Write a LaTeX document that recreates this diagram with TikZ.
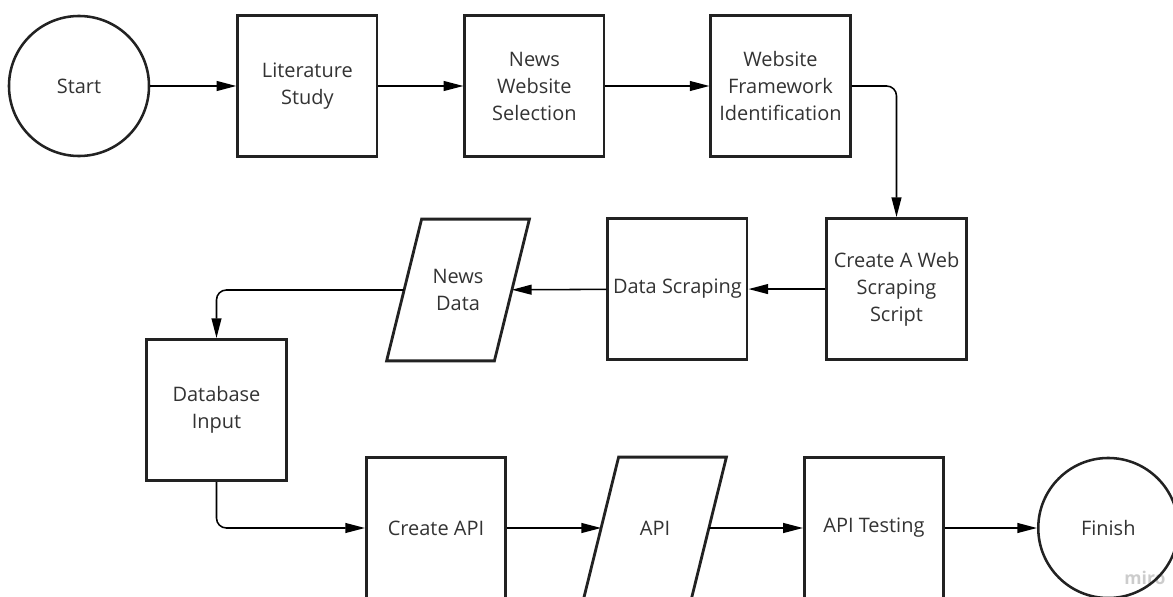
\documentclass[tikz,border=0pt]{standalone}
\usepackage{fontspec}
\setmainfont{Open Sans}
\usetikzlibrary{positioning,arrows.meta}
\definecolor{txtgray}{HTML}{333333}
\definecolor{boxgray}{HTML}{222222}
\definecolor{wmgray}{HTML}{CCCCCC}

\begin{document}
\begin{tikzpicture}[
  x=0.025cm, y=-0.025cm,
  node distance=2.15cm,
  every node/.style={align=center, text=txtgray, font=\fontsize{14.2}{19.2}\selectfont},
  process/.style={draw=boxgray, line width=2pt, minimum width=3.48cm, minimum height=3.53cm, inner sep=2pt},
  terminal/.style={draw=boxgray, line width=1.8pt, circle, minimum size=3.5cm, inner sep=0pt},
  io/.style={minimum width=2.68cm, minimum height=3.53cm, inner sep=2pt},
  iobox/.style={draw=boxgray, line width=2pt, line join=miter},
  arrow/.style={-{Triangle[length=14pt,width=7pt]}, line width=1.1pt, rounded corners=7pt}
]
\useasboundingbox (0,0) rectangle (1173,597);
\clip (0,0) rectangle (1173,597);

\node[text=wmgray, font=\fontsize{12.5}{14}\selectfont\bfseries] (wm) at (1145,578) {miro};

\node[terminal] (start) at (79,86) {Start};
\node[process] (lit) [right=2.15cm of start] {Literature\\Study};
\node[process] (news) [right=2.125cm of lit] {News\\Website\\Selection};
\node[process] (fw) [right=2.6cm of news] {Website\\Framework\\Identification};
\node[process] (create) [below=1.475cm of fw, xshift=2.9cm] {Create A Web\\Scraping\\Script};
\node[process] (scrape) [left=1.925cm of create] {Data Scraping};
\node[io] (newsdata) at (458,290) {News\\Data};
\node[process] (db) at (216.5,410) {Database\\Input};
\node[process] (mkapi) at (436,528) {Create API};
\node[io] (api) at (655,528) {API};
\node[process] (apitest) [right=2.35cm of api] {API Testing};
\node[terminal] (finish) [right=2.3cm of apitest] {Finish};

% slanted data boxes
\draw[iobox] ([xshift=0.4375cm]newsdata.north west) -- ([xshift=0.4375cm]newsdata.north east)
  -- ([xshift=-0.4375cm]newsdata.south east) -- ([xshift=-0.4375cm]newsdata.south west) -- cycle;
\draw[iobox] ([xshift=0.4375cm]api.north west) -- ([xshift=0.4375cm]api.north east)
  -- ([xshift=-0.4375cm]api.south east) -- ([xshift=-0.4375cm]api.south west) -- cycle;

\draw[arrow] (start) -- (lit);
\draw[arrow] (lit) -- (news);
\draw[arrow] (news) -- (fw);
\draw[arrow] (fw) -| (create);
\draw[arrow] (create) -- (scrape);
\draw[arrow] (scrape) -- (newsdata);
\draw[arrow] (newsdata) -| (db);
\draw[arrow] (db) |- (mkapi);
\draw[arrow] (mkapi) -- (api);
\draw[arrow] (api) -- (apitest);
\draw[arrow] (apitest) -- (finish);
\end{tikzpicture}
\end{document}
